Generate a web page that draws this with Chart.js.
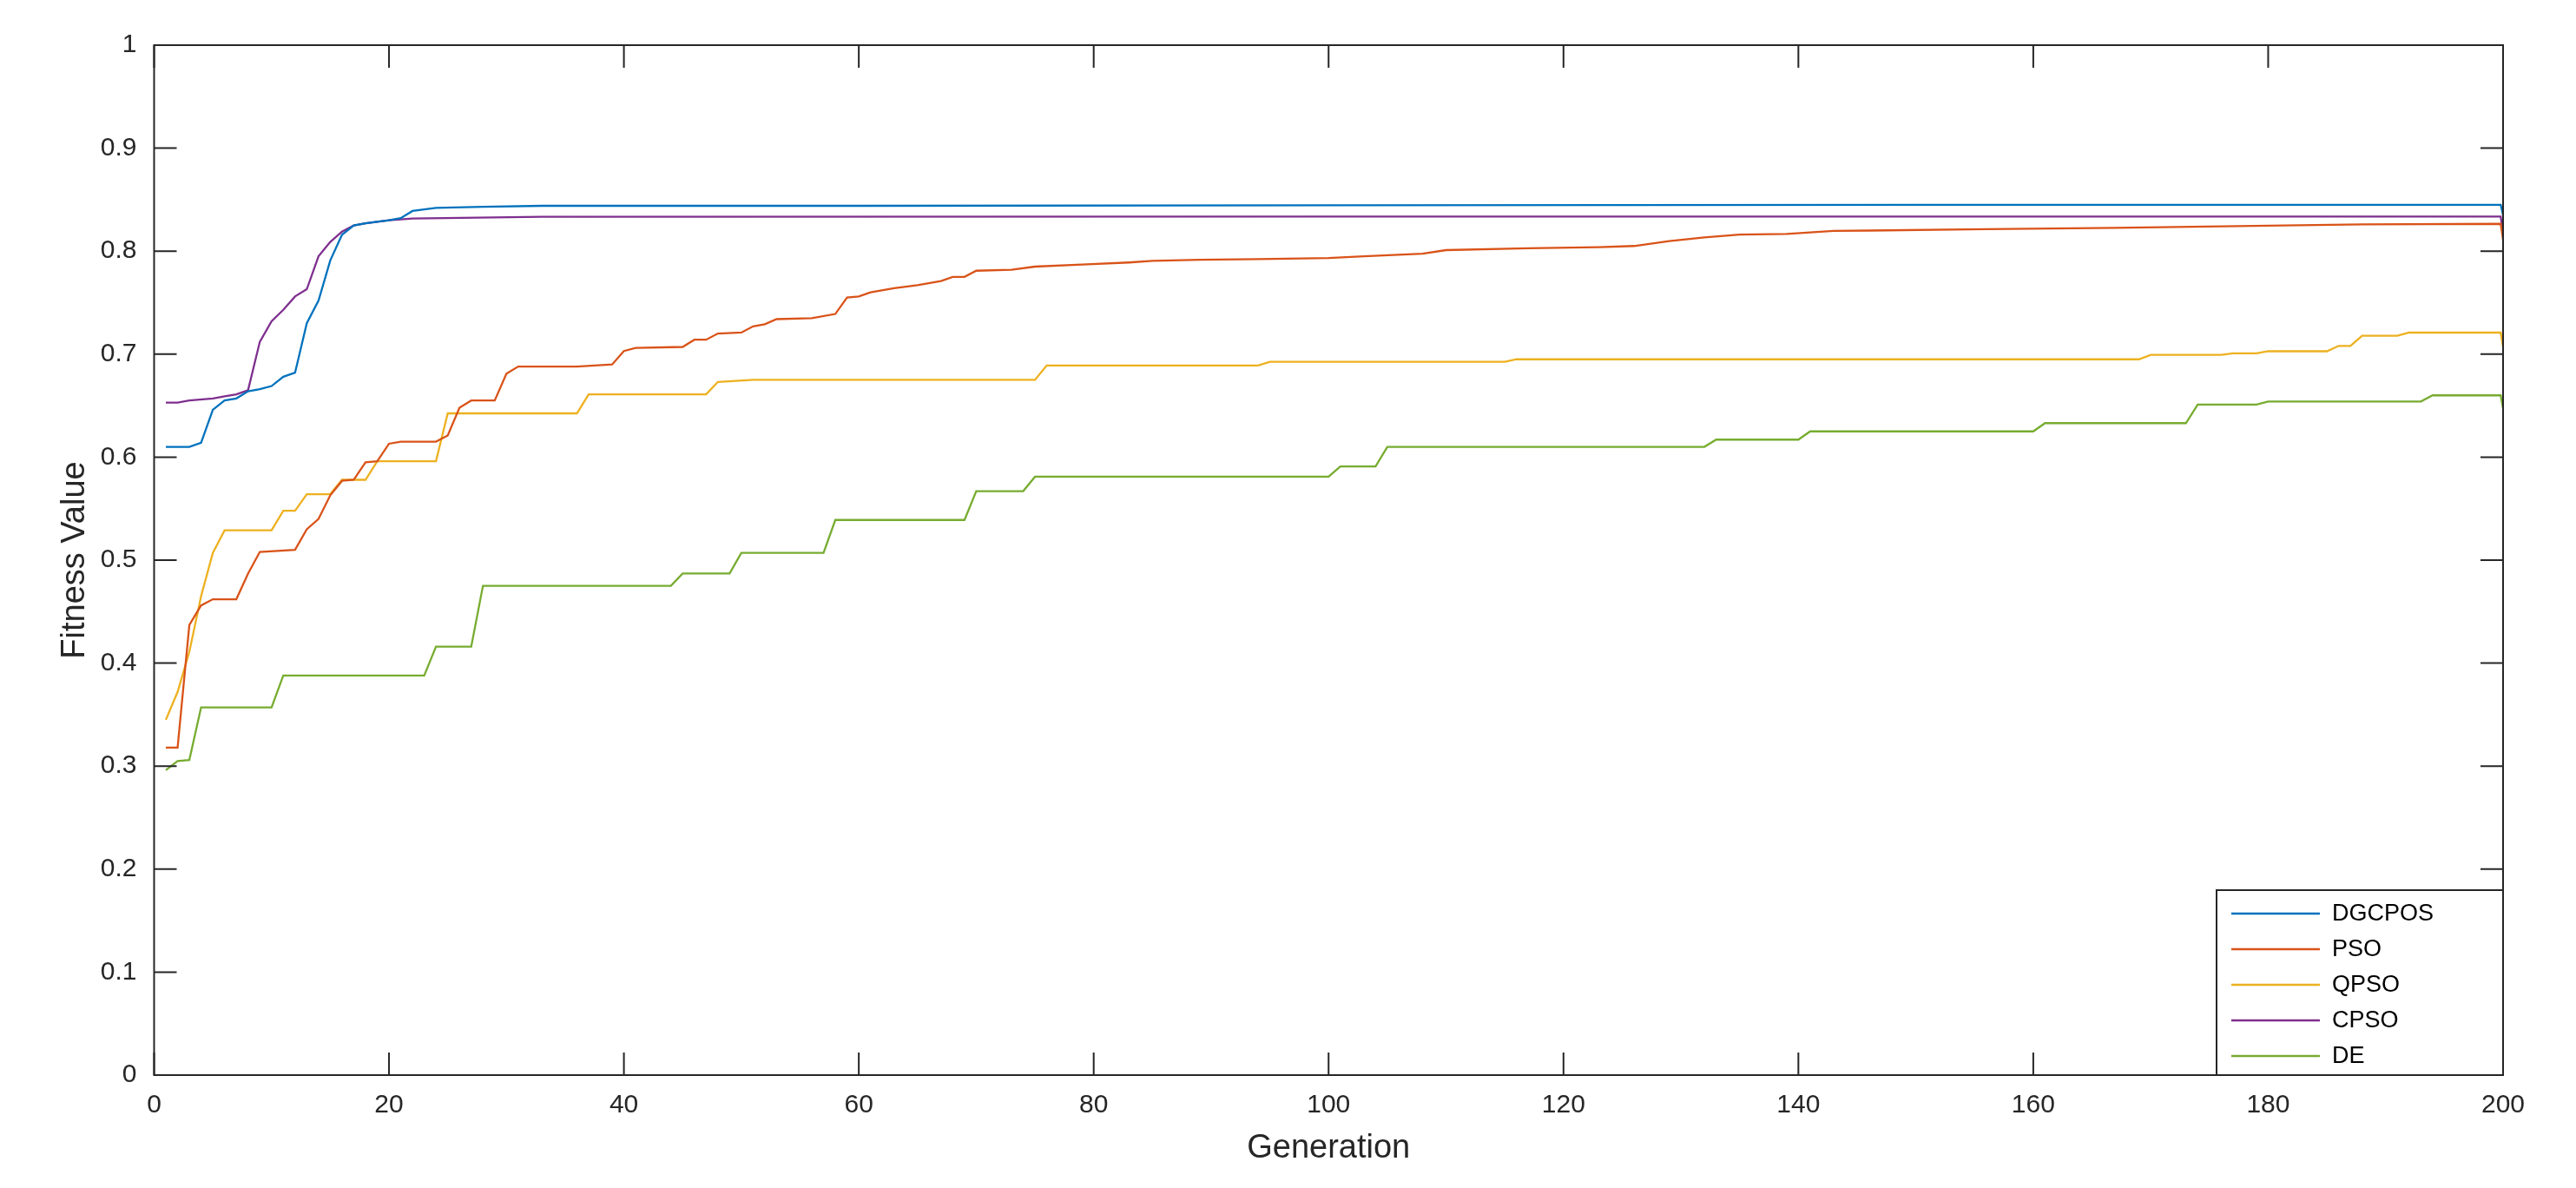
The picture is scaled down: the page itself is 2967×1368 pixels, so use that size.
<!DOCTYPE html>
<html>
<head>
<meta charset="utf-8">
<title>Fitness Value vs Generation</title>
<script src="https://cdn.jsdelivr.net/npm/chart.js@4.4.1/dist/chart.umd.min.js"></script>
<style>
  html, body { margin: 0; padding: 0; background: #fff; }
  #wrap { width: 2967px; height: 1368px; }
</style>
</head>
<body>
<div id="wrap"><canvas id="fitnessChart" width="2967" height="1368"></canvas></div>
<script>
// series (generation, fitness value)
const seriesNames = ['DGCPOS', 'PSO', 'QPSO', 'CPSO', 'DE'];

const dgcposGen = [1, 3, 4, 5, 6, 7, 8, 9, 10, 11, 12, 13, 14, 15, 16, 17, 18, 20, 21, 22, 24, 28, 33, 60, 100, 150, 199.8, 200];
const dgcposVal = [0.610, 0.610, 0.614, 0.646, 0.655, 0.657, 0.664, 0.666, 0.669, 0.678, 0.682, 0.730, 0.752, 0.791, 0.816, 0.825, 0.827, 0.830, 0.832, 0.839, 0.842, 0.843, 0.844, 0.844, 0.8445, 0.845, 0.845, 0.835];

const psoGen = [1, 2, 3, 4, 5, 7, 8, 9, 12, 13, 14, 15, 16, 17, 18, 19, 20, 21, 24, 25, 26, 27, 29, 30, 31, 36, 39, 40, 41, 45, 46, 47, 48, 50, 51, 52, 53, 56, 58, 59, 60, 61, 63, 65, 67, 68, 69, 70, 73, 75, 79, 83, 85, 89, 94, 100, 103, 108, 110, 117, 123, 126, 129, 132, 135, 139, 143, 146, 156, 167, 180, 188, 199.8, 200];
const psoVal = [0.318, 0.318, 0.437, 0.456, 0.462, 0.462, 0.487, 0.508, 0.510, 0.530, 0.540, 0.563, 0.577, 0.578, 0.595, 0.596, 0.613, 0.615, 0.615, 0.621, 0.648, 0.655, 0.655, 0.681, 0.688, 0.688, 0.690, 0.703, 0.706, 0.707, 0.714, 0.714, 0.720, 0.721, 0.727, 0.729, 0.734, 0.735, 0.739, 0.755, 0.756, 0.760, 0.764, 0.767, 0.771, 0.775, 0.775, 0.781, 0.782, 0.785, 0.787, 0.789, 0.7905, 0.7916, 0.7923, 0.7933, 0.795, 0.7975, 0.801, 0.8028, 0.8038, 0.805, 0.8098, 0.8133, 0.816, 0.8168, 0.8196, 0.820, 0.8213, 0.8226, 0.8247, 0.826, 0.8265, 0.811];

const qpsoGen = [1, 2, 3, 4, 5, 6, 10, 11, 12, 13, 15, 16, 18, 19, 24, 25, 36, 37, 47, 48, 51, 75, 76, 94, 95, 115, 116, 169, 170, 176, 177, 179, 180, 185, 186, 187, 188, 191, 192, 199.8, 200];
const qpsoVal = [0.345, 0.372, 0.411, 0.465, 0.507, 0.529, 0.529, 0.548, 0.548, 0.564, 0.564, 0.578, 0.578, 0.596, 0.596, 0.6425, 0.6425, 0.661, 0.661, 0.673, 0.675, 0.675, 0.689, 0.689, 0.6925, 0.6925, 0.695, 0.695, 0.6993, 0.6993, 0.7007, 0.7007, 0.7028, 0.7028, 0.708, 0.708, 0.7178, 0.7178, 0.7209, 0.7209, 0.707];

const cpsoGen = [1, 2, 3, 5, 6, 7, 8, 9, 10, 11, 12, 13, 14, 15, 16, 17, 18, 20, 22, 33, 100, 199.8, 200];
const cpsoVal = [0.653, 0.653, 0.655, 0.657, 0.659, 0.661, 0.665, 0.712, 0.732, 0.743, 0.756, 0.763, 0.795, 0.809, 0.819, 0.825, 0.827, 0.830, 0.8316, 0.8334, 0.8335, 0.8335, 0.818];

const deGen = [1, 2, 3, 4, 10, 11, 23, 24, 27, 28, 44, 45, 49, 50, 57, 58, 69, 70, 74, 75, 100, 101, 104, 105, 132, 133, 140, 141, 160, 161, 173, 174, 179, 180, 193, 194, 199.8, 200];
const deVal = [0.296, 0.305, 0.306, 0.357, 0.357, 0.388, 0.388, 0.416, 0.416, 0.475, 0.475, 0.487, 0.487, 0.507, 0.507, 0.539, 0.539, 0.567, 0.567, 0.581, 0.581, 0.591, 0.591, 0.610, 0.610, 0.617, 0.617, 0.625, 0.625, 0.633, 0.633, 0.651, 0.651, 0.654, 0.654, 0.660, 0.660, 0.647];

const xTickValues = [0, 20, 40, 60, 80, 100, 120, 140, 160, 180, 200];
const xTickLabels = ['0', '20', '40', '60', '80', '100', '120', '140', '160', '180', '200'];
const yTickValues = [0, 0.1, 0.2, 0.3, 0.4, 0.5, 0.6, 0.7, 0.8, 0.9, 1];
const yTickLabels = ['0', '0.1', '0.2', '0.3', '0.4', '0.5', '0.6', '0.7', '0.8', '0.9', '1'];

// matlab default line colours
const lineColors = ['#0072BD', '#D95319', '#EDB120', '#7E2F8E', '#77AC30'];

const AXIS_COLOR = '#262626';
const FONT_FAMILY = '"Liberation Sans", Arial, Helvetica, sans-serif';
const TICK_LEN = 26;

function toPoints(gens, vals) {
  return gens.map((g, i) => ({ x: g, y: vals[i] }));
}

const seriesData = [
  toPoints(dgcposGen, dgcposVal),
  toPoints(psoGen, psoVal),
  toPoints(qpsoGen, qpsoVal),
  toPoints(cpsoGen, cpsoVal),
  toPoints(deGen, deVal),
];

// box round the plot, ticks pointing inwards on every side, legend in the corner
const matlabFrame = {
  id: 'matlabFrame',
  afterDatasetsDraw(chart) {
    const { ctx, chartArea: a, scales } = chart;
    ctx.save();
    ctx.strokeStyle = AXIS_COLOR;
    ctx.lineWidth = 2;
    ctx.beginPath();
    xTickValues.forEach((v) => {
      const px = scales.x.getPixelForValue(v);
      ctx.moveTo(px, a.bottom);
      ctx.lineTo(px, a.bottom - TICK_LEN);
      ctx.moveTo(px, a.top);
      ctx.lineTo(px, a.top + TICK_LEN);
    });
    yTickValues.forEach((v) => {
      const py = scales.y.getPixelForValue(v);
      ctx.moveTo(a.left, py);
      ctx.lineTo(a.left + TICK_LEN, py);
      ctx.moveTo(a.right, py);
      ctx.lineTo(a.right - TICK_LEN, py);
    });
    ctx.stroke();
    ctx.strokeRect(a.left, a.top, a.right - a.left, a.bottom - a.top);

    // legend
    const w = 330, h = 213;
    const lx = a.right - w, ly = a.bottom - h;
    ctx.fillStyle = '#fff';
    ctx.fillRect(lx, ly, w, h);
    ctx.strokeRect(lx, ly, w, h);
    ctx.font = '27px ' + FONT_FAMILY;
    ctx.textBaseline = 'middle';
    ctx.textAlign = 'left';
    chart.data.datasets.forEach((ds, i) => {
      const ry = ly + 27 + i * 41;
      ctx.strokeStyle = ds.borderColor;
      ctx.lineWidth = 2.4;
      ctx.beginPath();
      ctx.moveTo(lx + 17, ry);
      ctx.lineTo(lx + 119, ry);
      ctx.stroke();
      ctx.fillStyle = '#000';
      ctx.fillText(ds.label, lx + 133, ry + 1);
    });
    ctx.restore();
  },
};

const tickFont = { family: FONT_FAMILY, size: 30 };
const titleFont = { family: FONT_FAMILY, size: 38 };

new Chart(document.getElementById('fitnessChart'), {
  type: 'line',
  data: {
    datasets: seriesNames.map((name, i) => ({
      label: name,
      data: seriesData[i],
      borderColor: lineColors[i],
      backgroundColor: lineColors[i],
      borderWidth: 2.3,
      pointRadius: 0,
      tension: 0,
      fill: false,
    })),
  },
  options: {
    responsive: false,
    animation: false,
    devicePixelRatio: 1,
    layout: { padding: { top: 52, right: 84, left: 0, bottom: 0 } },
    plugins: {
      legend: { display: false },
      tooltip: { enabled: false },
    },
    scales: {
      x: {
        type: 'linear',
        min: 0,
        max: 200,
        afterBuildTicks: (scale) => {
          scale.ticks = xTickValues.map((v) => ({ value: v }));
        },
        afterFit: (scale) => { scale.height = 130; },
        ticks: {
          autoSkip: false,
          maxRotation: 0,
          padding: 17,
          color: AXIS_COLOR,
          font: tickFont,
          callback: (value, index) => xTickLabels[index],
        },
        grid: { display: false, drawTicks: false },
        border: { display: false },
        title: {
          display: true,
          text: 'Generation',
          color: AXIS_COLOR,
          font: titleFont,
          padding: { top: 0, bottom: 23 },
        },
      },
      y: {
        type: 'linear',
        min: 0,
        max: 1,
        afterBuildTicks: (scale) => {
          scale.ticks = yTickValues.map((v) => ({ value: v }));
        },
        afterFit: (scale) => { scale.width = 177.5; },
        ticks: {
          autoSkip: false,
          padding: 20,
          color: AXIS_COLOR,
          font: tickFont,
          callback: (value, index) => yTickLabels[index],
        },
        grid: { display: false, drawTicks: false },
        border: { display: false },
        title: {
          display: true,
          text: 'Fitness Value',
          color: AXIS_COLOR,
          font: titleFont,
          padding: { top: 64, bottom: 0 },
        },
      },
    },
  },
  plugins: [matlabFrame],
});
</script>
</body>
</html>
